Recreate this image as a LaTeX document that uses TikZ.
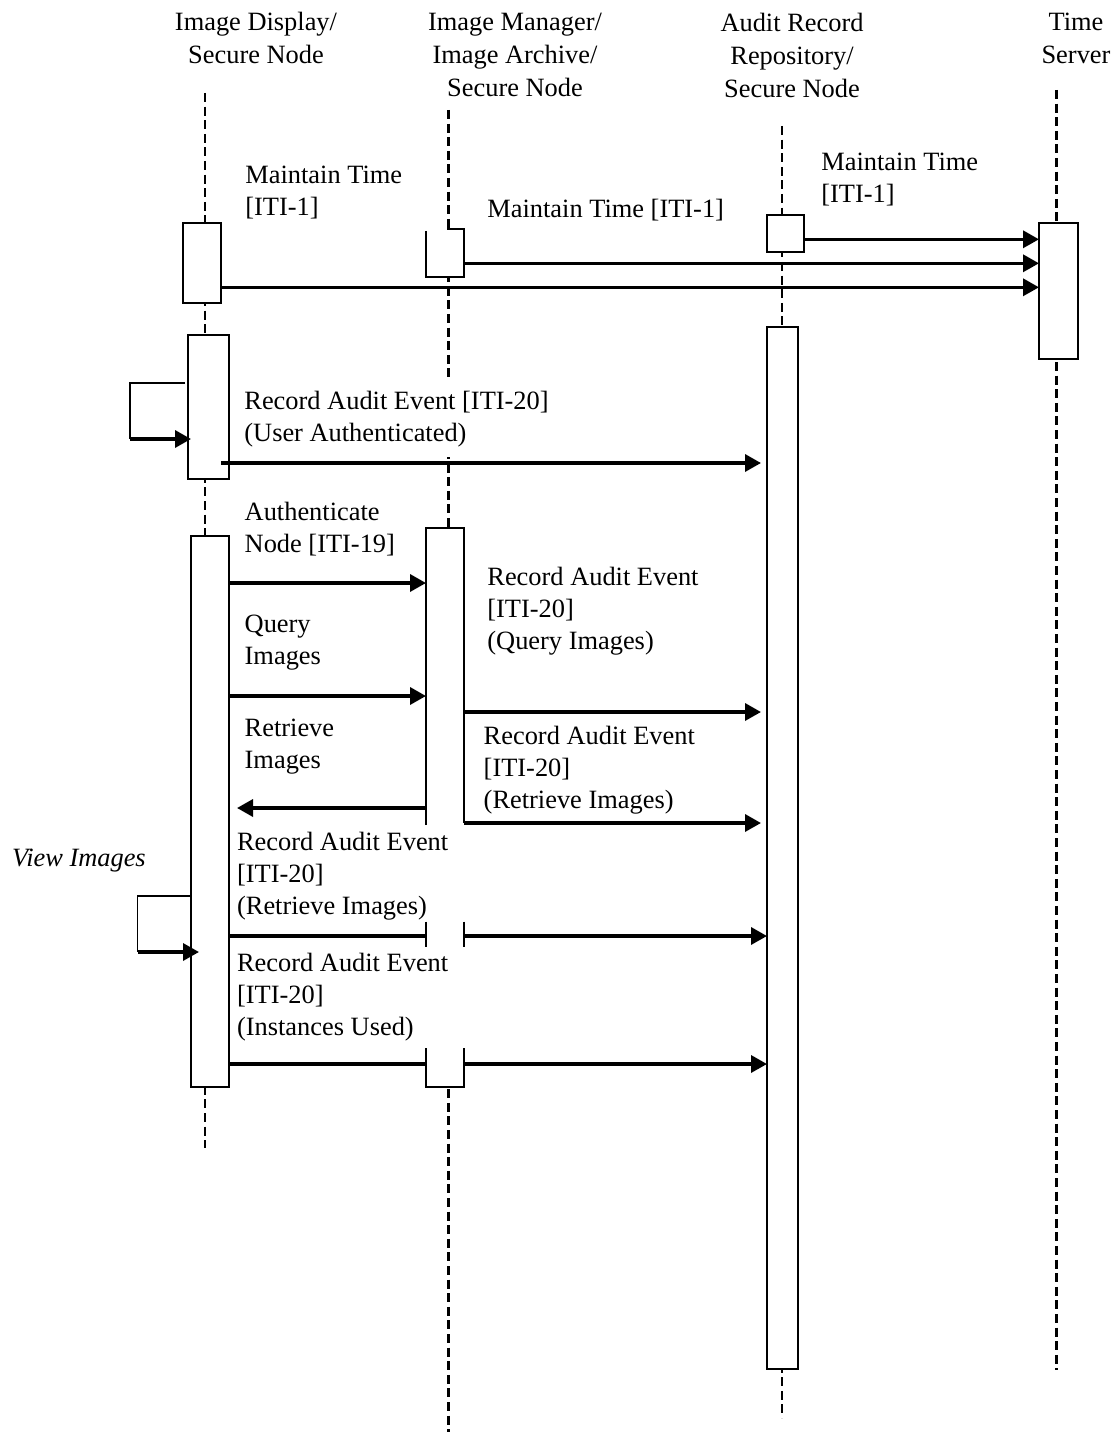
\documentclass[tikz,border=0pt]{standalone}
\usepackage{fontspec}
\setmainfont{Liberation Serif}
\usetikzlibrary{arrows.meta,calc}
\begin{document}
\begin{tikzpicture}[x=0.5pt,y=-0.5pt,
  lifeline/.style={line width=1.4pt, dash pattern=on 4.5pt off 2.3pt},
  actbox/.style={draw, fill=white, line width=0.75pt, inner sep=0pt, outer sep=0pt},
  blankbox/.style={fill=white, inner sep=0pt, outer sep=0pt},
  boxline/.style={line width=0.75pt},
  msg/.style={line width=1.7pt, -{Triangle[length=8pt,width=8.5pt]}},
  loopline/.style={line width=0.75pt},
  lbl/.style={font=\fontsize{13.2}{16}\selectfont, align=left, anchor=base west, inner sep=0pt},
  hdr/.style={font=\fontsize{13.2}{16.6}\selectfont, align=center, anchor=base, inner sep=0pt}]
\useasboundingbox (0,0) rectangle (1111,1433);

% headers (anchor = baseline of last line)
\node[hdr] (h1) at (256,64) {Image Display/\\Secure Node};
\node[hdr] (h2) at (515,97) {Image Manager/\\Image Archive/\\Secure Node};
\node[hdr] (h3) at (792,98) {Audit Record\\Repository/\\Secure Node};
\node[hdr] (h4) at (1076,64) {Time\\Server};

% lifelines
\coordinate (l1t) at (205,93);   \coordinate (l1b) at (205,1148);
\coordinate (l2t) at (448.5,110); \coordinate (l2b) at (448.5,1432);
\coordinate (l3t) at (782,126);  \coordinate (l3b) at (782,1418);
\coordinate (l4t) at (1056.5,90); \coordinate (l4b) at (1056.5,1370);
\draw[lifeline] (l1t) -- (l1b);
\draw[lifeline] (l2t) -- (l2b);
\draw[lifeline] (l3t) -- (l3b);
\draw[lifeline] (l4t) -- (l4b);

% activation boxes
\node[actbox, minimum width=19pt, minimum height=40pt] (b1a) at (202,263) {};
\node[actbox, minimum width=20.5pt, minimum height=72pt] (b1b) at (208.5,407) {};
\node[actbox, minimum width=19pt, minimum height=275.5pt] (b1c) at (210,811.5) {};
\node[blankbox, minimum width=19pt, minimum height=24pt] (b2a) at (445,253) {};
\draw[boxline] ([yshift=-1pt]b2a.north west) -- (b2a.south west) -- (b2a.south east) -- (b2a.north east) -- (b2a.north -| 447,0);
\node[actbox, minimum width=18.5pt, minimum height=18.5pt] (b3a) at (785.5,233.5) {};
\node[actbox, minimum width=15.5pt, minimum height=521pt] (b3b) at (782.5,848) {};
\node[actbox, minimum width=19.5pt, minimum height=68pt] (b4) at (1058.5,291) {};

% messages passing behind the image manager box
\draw[msg] (b1c.east |- 0,936) -- (b3b.west |- 0,936);
\draw[msg] (b1c.east |- 0,1064) -- (b3b.west |- 0,1064);

% image manager main box (edges partly hidden by labels)
\node[blankbox, minimum width=19pt, minimum height=279.5pt] (b2b) at (445,807.5) {};
\draw[boxline] (b2b.west |- 0,825) -- (b2b.north west) -- (b2b.north east) -- (b2b.east |- 0,823);
\draw[boxline] (b2b.west |- 0,921.7) -- (b2b.west |- 0,946.7);
\draw[boxline] (b2b.east |- 0,921.7) -- (b2b.east |- 0,946.7);
\draw[boxline] (b2b.west |- 0,1048) -- (b2b.south west) -- (b2b.south east) -- (b2b.east |- 0,1048);

% maintain time
\draw[msg] (b3a.east |- 0,239.3) -- (b4.west |- 0,239.3);
\draw[msg] (b2a.east |- 0,263.3) -- (b4.west |- 0,263.3);
\draw[msg] (b1a.east |- 0,287.3) -- (b4.west |- 0,287.3);

% self message 1
\coordinate (s1a) at (130,383);
\coordinate (s1b) at (130,439);
\draw[loopline] ($(b1b.west |- s1a)+(-3,0)$) -- (s1a) -- (s1b);
\draw[msg] (s1b) -- ($(b1b.west |- s1b)+(3,0)$);

% user authenticated (label drawn opaque over the manager lifeline)
\node[lbl, fill=white, inner ysep=5pt] (r1) at (244,441) {Record Audit Event [ITI-20]\\(User Authenticated)};
\draw[msg] ($(b1b.east |- 0,463)+(-8,0)$) -- ($(b3b.west |- 0,463)+(-6,0)$);

% authenticate / query / retrieve
\draw[msg] (b1c.east |- 0,583) -- (b2b.west |- 0,583);
\draw[msg] (b1c.east |- 0,696) -- (b2b.west |- 0,696);
\draw[msg] (b2b.west |- 0,808) -- ($(b1c.east |- 0,808)+(8,0)$);
\draw[msg] (b2b.east |- 0,712) -- ($(b3b.west |- 0,712)+(-6,0)$);
\draw[msg] (b2b.east |- 0,823) -- ($(b3b.west |- 0,823)+(-6,0)$);

% self message 2
\coordinate (s2a) at (137.7,896);
\coordinate (s2b) at (137.7,952);
\draw[loopline] (b1c.west |- s2a) -- (s2a) -- (s2b);
\draw[msg] (s2b) -- ($(b1c.west |- s2b)+(8,0)$);

% labels (anchor = baseline of last line)
\node[lbl] (m1) at (245,215.5) {Maintain Time\\{[ITI-1]}};
\node[lbl] (m2) at (487,218) {Maintain Time [ITI-1]};
\node[lbl] (m3) at (821,202.7) {Maintain Time\\{[ITI-1]}};
\node[lbl] (an) at (244.3,552.7) {Authenticate\\Node [ITI-19]};
\node[lbl] (qi) at (244.3,664.7) {Query\\Images};
\node[lbl] (ri) at (244.3,768.7) {Retrieve\\Images};
\node[lbl] (rq) at (487,649) {Record Audit Event\\{[ITI-20]}\\(Query Images)};
\node[lbl] (rr) at (483.3,808) {Record Audit Event\\{[ITI-20]}\\(Retrieve Images)};
\node[lbl] (rl1) at (236.7,914) {Record Audit Event\\{[ITI-20]}\\(Retrieve Images)};
\node[lbl] (rl2) at (236.7,1035.7) {Record Audit Event\\{[ITI-20]}\\(Instances Used)};
\node[lbl] (vi) at (11.7,866) {\itshape View Images};
\end{tikzpicture}
\end{document}
